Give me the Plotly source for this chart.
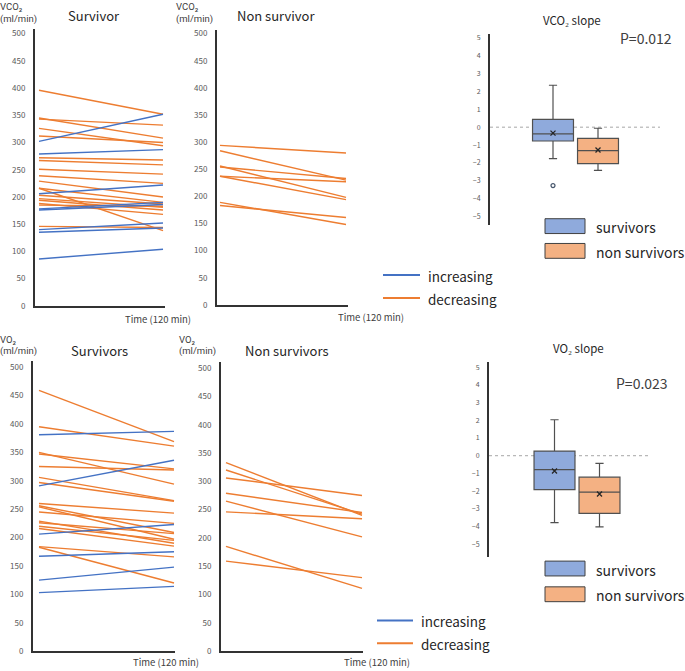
import plotly.graph_objects as go

W, H = 685, 671
FONT = "Noto Sans CJK JP"
SMALL_FONT = "Roboto"
BLUE = "#4472C4"
ORANGE = "#ED7D31"
BOX_BLUE = "#8FAADC"
BOX_ORANGE = "#F4B183"
AXIS = "#333333"
TICK = "#595959"

# ---------------- data ----------------
vco2_surv_inc = [(302, 352), (279, 287), (206, 222), (178, 190), (176, 186),
                 (140, 152), (135, 143), (86, 104)]
vco2_surv_dec = [(396, 352), (345, 308), (343, 332), (326, 294), (312, 300),
                 (272, 268), (267, 259), (251, 242), (239, 225), (229, 200),
                 (216, 138), (216, 190), (203, 187), (197, 181), (194, 176),
                 (188, 168), (185, 183), (146, 144)]
vco2_non_dec = [(294, 280), (284, 230), (256, 198), (254, 233), (237, 227),
                (237, 194), (189, 148), (183, 161)]

vo2_surv_inc = [(381, 387), (291, 336), (206, 223), (167, 175), (125, 148), (103, 114)]
vo2_surv_dec = [(459, 369), (395, 361), (350, 294), (347, 321), (325, 319),
                (306, 265), (297, 264), (260, 243), (256, 209), (254, 197),
                (245, 225), (229, 190), (226, 207), (220, 195), (216, 185),
                (184, 166), (183, 120)]
vo2_non_dec = [(333, 240), (320, 242), (306, 275), (279, 245), (265, 202),
               (246, 234), (185, 111), (159, 130)]

time_points = [0, 1]
flow_ticks = list(range(0, 501, 50))
slope_ticks = list(range(-5, 6))

# box statistics: lowerfence, q1, median, q3, upperfence, mean
vco2_slope_surv = dict(lf=-1.75, q1=-0.77, med=-0.37, q3=0.44, uf=2.34, mean=-0.33)
vco2_slope_non = dict(lf=-2.41, q1=-2.03, med=-1.31, q3=-0.63, uf=-0.06, mean=-1.27)
vco2_slope_surv_outliers = [-3.26]
vo2_slope_surv = dict(lf=-3.78, q1=-1.92, med=-0.78, q3=0.26, uf=2.03, mean=-0.86)
vo2_slope_non = dict(lf=-4.02, q1=-3.26, med=-2.05, q3=-1.21, uf=-0.43, mean=-2.16)
vco2_p = "P=0.012"
vo2_p = "P=0.023"


def px(x):
    return x / W


def py(y):
    return 1 - y / H


fig = go.Figure()
layout = {}


def line_panel(i, ax_l, ax_r, top, y0, y500, ln_l, ln_r, inc, dec):
    unit = ln_r - ln_l
    xr = [-(ln_l - ax_l) / unit, 1 + (ax_r - ln_r) / unit]
    ymax = 500 * (y0 - top) / (y0 - y500)
    sfx = "" if i == 1 else str(i)
    layout["xaxis" + sfx] = dict(domain=[px(ax_l), px(ax_r)], range=xr, anchor="y" + sfx,
                                 showline=True, linecolor=AXIS, linewidth=2,
                                 showticklabels=False, showgrid=False, zeroline=False,
                                 ticks="")
    layout["yaxis" + sfx] = dict(domain=[py(y0), py(top)], range=[0, ymax], anchor="x" + sfx,
                                 showline=True, linecolor=AXIS, linewidth=2,
                                 tickvals=flow_ticks, ticks="", showgrid=False,
                                 zeroline=False, ticklabelstandoff=6,
                                 tickfont=dict(size=8, color=TICK, family=FONT))
    for vals, col in ((dec, ORANGE), (inc, BLUE)):
        for a, b in vals:
            fig.add_trace(go.Scatter(x=time_points, y=[a, b], mode="lines",
                                     line=dict(color=col, width=1.4),
                                     xaxis="x" + sfx, yaxis="y" + sfx,
                                     showlegend=False, hoverinfo="skip"))


line_panel(1, 35, 165, 27, 307, 32, 39, 163, vco2_surv_inc, vco2_surv_dec)
line_panel(2, 217, 348, 28, 306, 32, 220, 346, [], vco2_non_dec)
line_panel(3, 33, 175, 363, 656, 369, 39, 174, vo2_surv_inc, vo2_surv_dec)
line_panel(4, 221, 363, 364, 656, 370, 226, 362, [], vo2_non_dec)


def box_panel(i, ax_l, ax_r, top, bot, y5, ym5, c0, c1, surv, non, outl):
    unit = c1 - c0
    xr = [(ax_l - c0) / unit, (ax_r - c0) / unit]
    per = (ym5 - y5) / 10.0
    yr = [-5 - (bot - ym5) / per, 5 + (y5 - top) / per]
    sfx = str(i)
    layout["xaxis" + sfx] = dict(domain=[px(ax_l), px(ax_r)], range=xr, anchor="y" + sfx,
                                 showline=False, showticklabels=False, showgrid=False,
                                 zeroline=False)
    layout["yaxis" + sfx] = dict(domain=[py(bot), py(top)], range=yr, anchor="x" + sfx,
                                 showline=True, linecolor=AXIS, linewidth=2,
                                 tickvals=slope_ticks, ticks="", showgrid=False,
                                 zeroline=False, ticklabelstandoff=6,
                                 tickfont=dict(size=7, color=TICK, family=FONT))
    layout.setdefault("shapes", []).append(dict(
        type="line", xref="x" + sfx + " domain", x0=0, x1=1, yref="y" + sfx, y0=0, y1=0,
        line=dict(color="#A6A6A6", width=1, dash="dot"), layer="below"))
    for xpos, st, fill in ((0, surv, BOX_BLUE), (1, non, BOX_ORANGE)):
        fig.add_trace(go.Box(x=[xpos], q1=[st["q1"]], median=[st["med"]], q3=[st["q3"]],
                             lowerfence=[st["lf"]], upperfence=[st["uf"]],
                             width=0.91, whiskerwidth=0.2, fillcolor=fill,
                             line=dict(color="#505050", width=1.2),
                             xaxis="x" + sfx, yaxis="y" + sfx, showlegend=False,
                             hoverinfo="skip"))
        fig.add_trace(go.Scatter(x=[xpos], y=[st["mean"]], mode="markers",
                                 marker=dict(symbol="x-thin-open", size=5, color="#262626",
                                             line=dict(color="#262626", width=1.3)),
                                 xaxis="x" + sfx, yaxis="y" + sfx, showlegend=False,
                                 hoverinfo="skip"))
    if outl:
        fig.add_trace(go.Scatter(x=[0] * len(outl), y=outl, mode="markers",
                                 marker=dict(symbol="circle-open", size=4, color="#44546A",
                                             line=dict(color="#44546A", width=1.2)),
                                 xaxis="x" + sfx, yaxis="y" + sfx, showlegend=False,
                                 hoverinfo="skip"))


box_panel(5, 490, 660, 32, 225, 36, 217, 553, 598, vco2_slope_surv, vco2_slope_non,
          vco2_slope_surv_outliers)
box_panel(6, 489, 651, 364, 561, 369, 548, 554.5, 599.5, vo2_slope_surv, vo2_slope_non, [])

ann = []


def text(x, y, t, size, xa="left", ya="middle", color="#262626", family=FONT):
    ann.append(dict(x=px(x), y=py(y), xref="paper", yref="paper", text=t, showarrow=False,
                    xanchor=xa, yanchor=ya, borderpad=0,
                    font=dict(size=size, color=color, family=family)))


# panel titles
text(94, 14, "Survivor", 13, "center")
text(276, 14, "Non survivor", 13, "center")
text(99, 352, "Survivors", 13, "center")
text(287, 352, "Non survivors", 13, "center")
# unit labels
for x0, y0, lab in ((-1, 5, "VCO₂"), (175, 5, "VCO₂"),
                    (-1, 341, "VO₂"), (178, 341, "VO₂")):
    text(x0, y0, lab, 9.5, "left", "middle", "#404040", SMALL_FONT)
    text(x0, y0 + 12, "(ml/min)", 9.5, "left", "middle", "#404040", SMALL_FONT)
# time labels
text(124, 320, "Time (120 min)", 9.5, "left", "middle", "#404040")
text(337, 318, "Time (120 min)", 9.5, "left", "middle", "#404040")
text(132, 667, "Time (120 min)", 9.5, "left", "middle", "#404040")
text(343, 667, "Time (120 min)", 9.5, "left", "middle", "#404040")
# box titles and p values
text(572, 18, "VCO₂ slope", 11.5, "center")
text(673, 36, vco2_p, 14, "right", "middle", "#404040")
text(578, 350, "VO₂ slope", 11.5, "center")
text(669, 385, vo2_p, 14, "right", "middle", "#404040")

shapes = layout.setdefault("shapes", [])
# line legends
for (x0, x1, ys) in ((383, 420, (276, 299)), (377, 413, (625, 648))):
    for yy, col, lab in ((ys[0], BLUE, "increasing"), (ys[1], ORANGE, "decreasing")):
        shapes.append(dict(type="line", xref="paper", yref="paper", x0=px(x0), x1=px(x1),
                           y0=py(yy), y1=py(yy), line=dict(color=col, width=2)))
        text(x1 + 7, yy + 1, lab, 13.5, "left", "middle", "#262626")
# box legends
for ys in ((219, 244), (565, 591)):
    for yy, col, lab in ((ys[0], BOX_BLUE, "survivors"), (ys[1], BOX_ORANGE, "non survivors")):
        shapes.append(dict(type="rect", xref="paper", yref="paper", x0=px(545), x1=px(585),
                           y0=py(yy + 15), y1=py(yy), fillcolor=col,
                           line=dict(color="#404040", width=1)))
        text(595, yy + 8.5, lab, 14, "left", "middle", "#262626")

fig.update_layout(**layout)
fig.update_layout(width=W, height=H, margin=dict(l=0, r=0, t=0, b=0),
                  paper_bgcolor="white", plot_bgcolor="white", annotations=ann,
                  showlegend=False, font=dict(family=FONT))
fig.write_html("out.html", config={"displayModeBar": False},
               post_script="document.body.style.margin='0';document.body.style.overflow='hidden';")
